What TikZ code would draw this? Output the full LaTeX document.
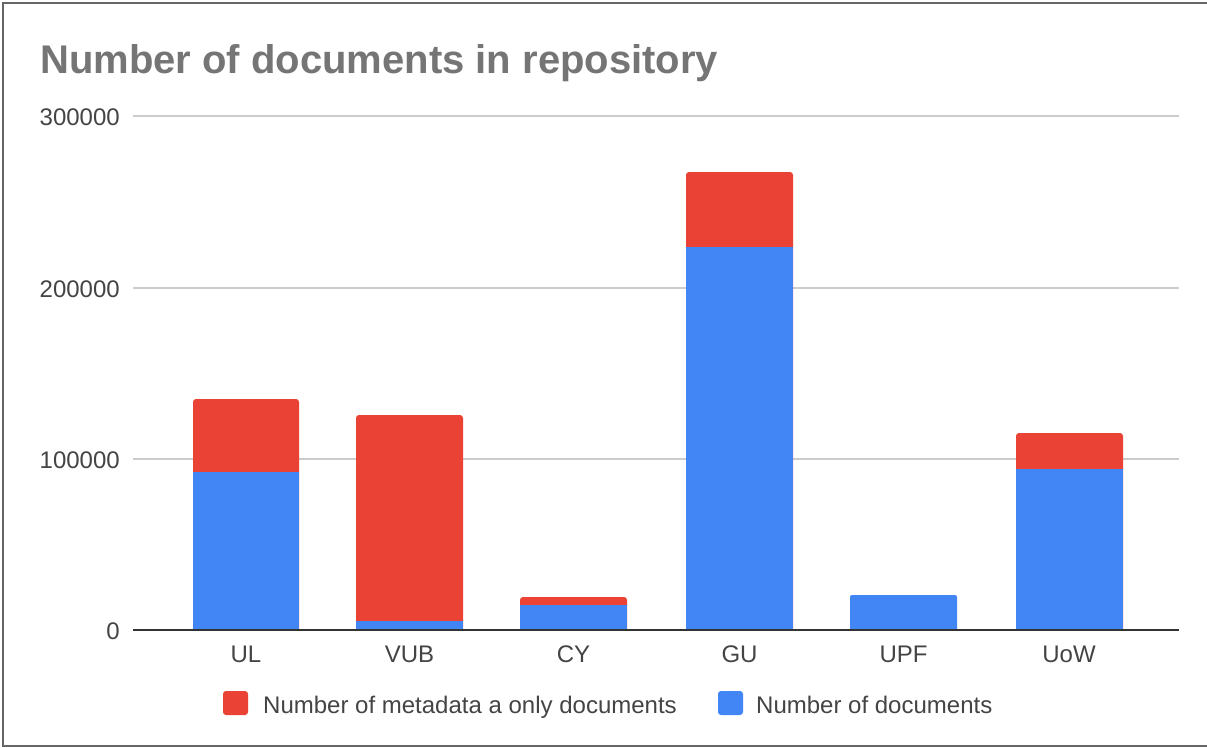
\documentclass[tikz,border=0pt]{standalone}
\usepackage{fontspec}
\setmainfont{Liberation Sans}
\definecolor{barred}{HTML}{EA4335}
\definecolor{barblue}{HTML}{4285F4}
\definecolor{titlegray}{HTML}{757575}
\definecolor{labelgray}{HTML}{444444}
\definecolor{gridgray}{HTML}{CCCCCC}
\definecolor{framegray}{HTML}{666666}
\tikzset{
  ticklabel/.style={inner sep=0pt, text=labelgray, font=\fontsize{24}{28}\selectfont},
  gridline/.style={draw=gridgray, line width=1.2pt},
  axisline/.style={draw=black!80, line width=1.6pt},
  legendsq/.style={rounded corners=3pt},
}
\begin{document}
\begin{tikzpicture}[x=1pt,y=-1pt]
\useasboundingbox (0,0) rectangle (1207,747);
\fill[white] (0,0) rectangle (1207,747);
% frame
\draw[framegray, line width=1.5pt] (1207,3) -- (3,3) -- (3,746) -- (1207,746);
% title
\node[anchor=base west, inner sep=0pt, text=titlegray, font=\bfseries\fontsize{40}{46}\selectfont] (title) at (40,73) {Number of documents in repository};
% grid
\foreach \yy/\lab/\nm in {116/300000/y3, 288/200000/y2, 459/100000/y1}{
  \draw[gridline] (133,\yy) -- (1179,\yy);
  \node[ticklabel, anchor=base east] (\nm) at (120,\yy+9) {\lab};
}
\node[ticklabel, anchor=base east] (y0) at (120,639) {0};
% bars: left, right, top, blue top
\foreach \xa/\xb/\tp/\bt in {193/299/399/472, 356/463/415/621, 520/627/597/605, 686/793/172/247, 1016/1123/433/469}{
  \fill[barred] (\xa,630) [rounded corners=3pt] -- (\xa,\tp) -- (\xb,\tp) [sharp corners] -- (\xb,630) -- cycle;
  \fill[barblue] (\xa,\bt) rectangle (\xb,630);
}
\fill[barblue] (850,630) [rounded corners=2pt] -- (850,595) -- (957,595) [sharp corners] -- (957,630) -- cycle;
% axis
\draw[axisline] (133,630) -- (1179,630);
% category labels
\foreach \cx/\lab/\nm in {246/UL/cUL, 409.5/VUB/cVUB, 573.5/CY/cCY, 739.5/GU/cGU, 903.5/UPF/cUPF, 1069/UoW/cUoW}{
  \node[ticklabel, anchor=base] (\nm) at (\cx,662) {\lab};
}
% legend
\fill[barred, legendsq] (223,691) rectangle (248,715);
\node[ticklabel, anchor=base west] (leg1) at (263,713) {Number of metadata a only documents};
\fill[barblue, legendsq] (718,691) rectangle (743,715);
\node[ticklabel, anchor=base west] (leg2) at (756,713) {Number of documents};
\end{tikzpicture}
\end{document}
